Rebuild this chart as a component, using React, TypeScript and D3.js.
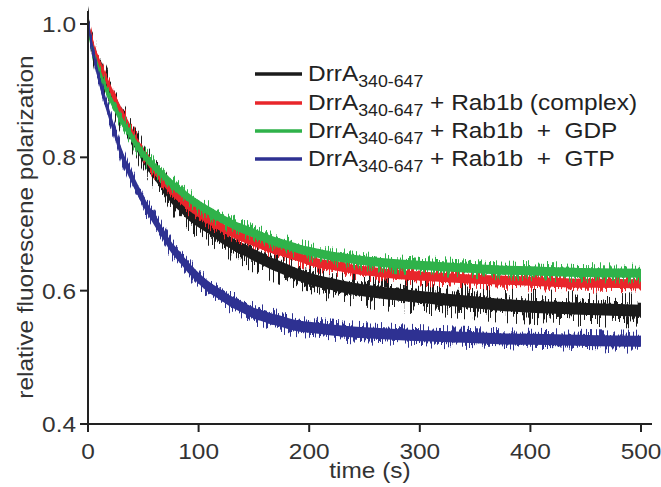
import React from "react";
import * as d3 from "d3";

const times = [0, 6, 12, 18, 24, 30, 38, 45, 52, 60, 68, 75, 83, 90, 98, 105, 113, 120, 128, 135, 143, 150, 158, 165, 173, 180, 190, 200, 220, 240, 260, 282, 310, 340, 372, 400, 430, 460, 500];

const drrA = [1.0, .955, .93, .906, .883, .861, .838, .816, .795, .776, .758, .741, .728, .716, .706, .6985, .69, .681, .673, .666, .66, .6535, .647, .641, .636, .631, .624, .618, .610, .603, .598, .594, .589, .584, .579, .576, .574, .572, .570];
const complexRab = [1.0, .96, .935, .911, .889, .8685, .843, .821, .80, .781, .765, .751, .739, .7285, .719, .711, .703, .696, .689, .6835, .678, .6735, .668, .6635, .66, .656, .651, .645, .638, .632, .628, .624, .621, .618, .616, .614, .612, .611, .610];
const gdpRab = [.99, .951, .921, .896, .875, .856, .835, .816, .80, .786, .773, .761, .750, .741, .731, .7235, .716, .7085, .702, .696, .691, .686, .681, .676, .672, .6685, .663, .659, .652, .647, .643, .640, .637, .634, .631, .630, .628, .627, .626];
const gtpRab = [1.0, .948, .905, .871, .838, .807, .775, .751, .728, .706, .685, .666, .650, .636, .622, .611, .601, .594, .585, .579, .572, .566, .562, .558, .555, .551, .547, .545, .541, .538, .536, .534, .532, .530, .528, .527, .526, .525, .524];

const xTicks = [0, 100, 200, 300, 400, 500];
const yTicks = [0.4, 0.6, 0.8, 1.0];

const seriesNames = ["black", "red", "green", "blue"];
const seriesSuffix = ["", " + Rab1b (complex)", " + Rab1b  +  GDP", " + Rab1b  +  GTP"];
const seriesColors = ["#1b1b1b", "#e8262b", "#2fb24a", "#2e3192"];
const seriesData = [drrA, complexRab, gdpRab, gtpRab];

const FONT = "'Liberation Sans', Arial, Helvetica, sans-serif";
const SX = 1.11;

function T(props: {
  x: number;
  y: number;
  anchor?: string;
  size?: number;
  rotate?: number;
  fill?: string;
  dy?: string;
  children: React.ReactNode;
}) {
  const { x, y, anchor = "start", size = 22, rotate = 0, fill = "#333", dy, children } = props;
  return (
    <g transform={`translate(${x},${y}) rotate(${rotate}) scale(${SX},1)`}>
      <text
        x={0}
        y={0}
        dy={dy}
        textAnchor={anchor}
        fontSize={size}
        fill={fill}
        style={{ whiteSpace: "pre" }}
      >
        {children}
      </text>
    </g>
  );
}

export default function App() {
  const W = 661, H = 487;
  const x = d3.scaleLinear().domain([0, 500]).range([88, 641]);
  const y = d3.scaleLinear().domain([0.4, 1.0]).range([424, 24]);
  const axisColor = "#222";

  // band half-thickness in pixels (visual noise band of each trace)
  const halfBand = [6, 4.5, 4.5, 5.5];
  const band = (h: number) =>
    d3
      .area<number>()
      .x((_, i) => x(times[i]))
      .y0((d) => y(d) + h)
      .y1((d) => y(d) - h)
      .curve(d3.curveMonotoneX);

  const drawOrder = [0, 1, 2, 3];
  const legendY = [74, 103, 131, 159];
  const filters = ["noiseB", "noiseA", "noiseC", "noiseD"];
  const k = 2.6;
  const cm = `0 0 0 0 0.5  0 ${k} 0 0 ${0.5 - 0.5 * k}  0 0 0 0 0  0 0 0 0 1`;

  return (
    <svg
      width={W}
      height={H}
      style={{ position: "absolute", left: 0, top: 0, background: "#fff" }}
      fontFamily={FONT}
    >
      <defs>
        {[
          { id: "noiseA", seed: 3, scale: 12 },
          { id: "noiseC", seed: 11, scale: 12 },
          { id: "noiseD", seed: 5, scale: 13 },
          { id: "noiseB", seed: 7, scale: 24 },
        ].map((f) => (
          <filter key={f.id} id={f.id} filterUnits="userSpaceOnUse" x="0" y="0" width={W} height={H}>
            <feTurbulence type="fractalNoise" baseFrequency="0.95 0.02" numOctaves="2" seed={f.seed} result="n" />
            <feColorMatrix in="n" type="matrix" values={cm} result="m" />
            <feDisplacementMap in="SourceGraphic" in2="m" scale={f.scale} xChannelSelector="R" yChannelSelector="G" />
          </filter>
        ))}
      </defs>

      {/* data series: noisy band */}
      {drawOrder.map((i) => {
        const d = band(halfBand[i])(seriesData[i]) || "";
        return (
          <g key={seriesNames[i]} fill={seriesColors[i]}>
            <path d={d} filter={`url(#${filters[i]})`} />
            <path d={d} />
          </g>
        );
      })}

      {/* axes */}
      <line x1={88} x2={88} y1={11} y2={y(0.4)} stroke={axisColor} strokeWidth={2} />
      <line x1={88} x2={652} y1={y(0.4)} y2={y(0.4)} stroke={axisColor} strokeWidth={2} />
      {yTicks.map((t) => (
        <g key={"y" + t}>
          <line x1={80} x2={88} y1={y(t)} y2={y(t)} stroke={axisColor} strokeWidth={2} />
          <T x={76} y={y(t)} dy="0.36em" anchor="end">
            {t.toFixed(1)}
          </T>
        </g>
      ))}
      {xTicks.map((t) => (
        <g key={"x" + t}>
          <line x1={x(t)} x2={x(t)} y1={y(0.4)} y2={y(0.4) + 8} stroke={axisColor} strokeWidth={2} />
          <T x={x(t)} y={459} anchor="middle">
            {String(t)}
          </T>
        </g>
      ))}
      <T x={370} y={478} anchor="middle">
        time (s)
      </T>
      <T x={33} y={227} rotate={-90} anchor="middle">
        relative fluorescene polarization
      </T>

      {/* legend */}
      {seriesNames.map((n, i) => (
        <g key={"leg" + n}>
          <line x1={255} x2={302} y1={legendY[i]} y2={legendY[i]} stroke={seriesColors[i]} strokeWidth={3.5} />
          <g transform={`translate(308,${legendY[i] + 7}) scale(${SX},1)`}>
            <text x={0} y={0} fontSize={22} fill="#222" style={{ whiteSpace: "pre" }}>
              DrrA
              <tspan fontSize={16} dy={6}>340-647</tspan>
              <tspan dy={-6}>{seriesSuffix[i]}</tspan>
            </text>
          </g>
        </g>
      ))}
    </svg>
  );
}
